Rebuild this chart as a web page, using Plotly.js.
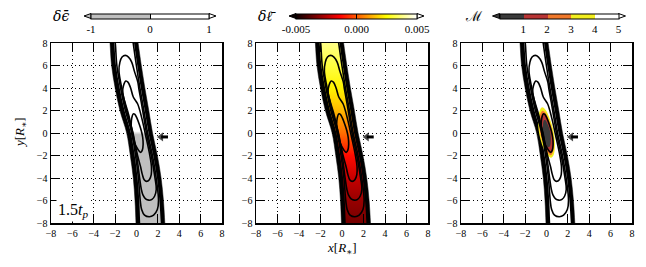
<!DOCTYPE html>
<html><head><meta charset="utf-8">
<script src="https://cdn.plot.ly/plotly-3.0.1.min.js"></script>
<style>html,body{margin:0;padding:0;background:#fff}</style>
</head><body><div id="chart" style="width:646px;height:267px"></div>
<script>
// ---------------- data ----------------
// stream edges (x positions in R*) sampled at these heights (first/last lie just outside the view)
const edgeY   = [9.2, 8, 6, 4, 2, 0, -2, -4, -6, -8, -9.2];
const outerL  = [-2.58, -2.48, -2.33, -2.0, -1.55, -0.92, -0.58, -0.3, -0.14, -0.05, 0.0];
const outerR  = [-0.02, 0.15, 0.45, 0.78, 1.15, 1.5, 1.95, 2.3, 2.52, 2.65, 2.72];
const innerL  = [-2.17, -2.07, -1.92, -1.57, -1.12, -0.52, -0.17, 0.1, 0.26, 0.35, 0.41];
const innerR  = [-0.38, -0.23, 0.07, 0.4, 0.77, 1.12, 1.57, 1.92, 2.14, 2.27, 2.35];

// density contour loops
const loopAx = [-0.3,-0.45,-0.5,-0.45,-0.3,-0.05,0.2,0.4,0.55,0.62,0.58,0.45,0.25,0.05,-0.15,-0.3];
const loopAy = [1.7,1.3,0.7,0.0,-0.6,-1.15,-1.55,-1.72,-1.5,-1.0,-0.4,0.2,0.8,1.3,1.65,1.7];
const loopBx = [-1.3,-1.22,-1.0,-0.78,-0.55,-0.3,0.1,0.5,0.85,1.25,1.4,1.38,1.2,0.95,0.72,0.55,0.38,0.1,-0.25,-0.7,-1.1,-1.3];
const loopBy = [3.6,4.2,4.62,4.5,4.0,3.2,2.6,1.3,-0.2,-2.0,-3.0,-3.7,-4.15,-4.3,-4.15,-3.7,-3.0,-2.0,-0.5,1.5,2.8,3.6];
const loopCx = [-1.64,-1.55,-1.35,-1.05,-0.75,-0.45,-0.2,0.13,0.21,0.58,0.93,1.38,1.73,1.85,1.7,1.45,1.15,0.85,0.6,0.45,0.29,0.02,-0.33,-0.93,-1.38,-1.64];
const loopCy = [5.5,6.3,6.75,6.9,6.75,6.3,5.5,4.5,4.0,2.0,0.0,-2.0,-4.0,-5.0,-5.6,-5.9,-5.97,-5.85,-5.5,-5.0,-4.0,-2.0,0.0,2.0,4.0,5.5];
const loopDx = [-2.1,-1.99,-1.84,-1.49,-1.04,-0.44,-0.09,0.18,0.35,0.48,0.75,1.2,1.6,1.95,2.06,1.84,1.49,1.04,0.69,0.32,-0.01,-0.31,-0.4];
const loopDy = [8.6,8,6,4,2,0,-2,-4,-6,-6.8,-7.3,-7.45,-7.3,-6.8,-6,-4,-2,0,2,4,6,8,8.6];

// panel 1: sign of delta-epsilon along the stream
const epsY   = [-8, -0.15, 0.15, 8];
const epsVal = [-0.6, -0.5, 0.5, 0.6];
// panel 2: delta-l along the stream
const lY   = [-8, -6, -4, -2, 0, 2, 4, 6, 8];
const lVal = [-0.0034, -0.0029, -0.0022, -0.0012, 0.0003, 0.0014, 0.0023, 0.0031, 0.0038];
// panel 3: Mach-number regions (nested), value of each region
const machVal = [3.5, 2.5, 1.5, 0.5];
const machX = [
  [-0.42,-0.65,-0.78,-0.74,-0.55,-0.25,0.1,0.42,0.68,0.79,0.74,0.55,0.25,-0.08,-0.42],
  [-0.38,-0.58,-0.68,-0.64,-0.46,-0.18,0.12,0.4,0.6,0.68,0.63,0.45,0.18,-0.1,-0.38],
  [-0.32,-0.5,-0.56,-0.5,-0.34,-0.08,0.18,0.42,0.58,0.62,0.56,0.4,0.15,-0.08,-0.32],
  [-0.22,-0.33,-0.34,-0.25,-0.08,0.12,0.3,0.4,0.38,0.25,0.05,-0.12,-0.22]
];
const machY = [
  [2.28,1.95,1.2,0.3,-0.6,-1.4,-1.95,-2.2,-1.9,-1.1,-0.3,0.6,1.4,2.05,2.28],
  [1.98,1.7,1.05,0.25,-0.55,-1.25,-1.75,-1.98,-1.7,-1.0,-0.25,0.55,1.25,1.8,1.98],
  [1.75,1.4,0.8,0.05,-0.6,-1.2,-1.6,-1.78,-1.5,-0.85,-0.15,0.5,1.1,1.55,1.75],
  [1.15,0.8,0.2,-0.4,-0.9,-1.25,-1.2,-0.7,-0.1,0.45,0.9,1.15,1.15]
];
// arrow marking direction (head first)
const arrowX = [2.3, 2.95];
const arrowY = [-0.35, -0.35];

// tick labels
const axisTicks = [-8, -6, -4, -2, 0, 2, 4, 6, 8];
const epsTicks = [-1, 0, 1],           epsTickText = ['-1', '0', '1'];
const lTicks = [-0.005, 0, 0.005],     lTickText = ['-0.005', '0.000', '0.005'];
const machTicks = [1, 2, 3, 4, 5],     machTickText = ['1', '2', '3', '4', '5'];

// ---------------- colour maps ----------------
const GRAY = '#bfbfbf';
const epsScale = [[0, GRAY], [0.5, GRAY], [0.5, '#ffffff'], [1, '#ffffff']];
const hotStops = [[0, [10, 0, 0]], [0.365, [255, 0, 0]], [0.746, [255, 255, 0]], [1, [255, 255, 255]]];
const hotScale = hotStops.map(s => [s[0], 'rgb(' + s[1].join(',') + ')']);
const machCols = ['#3a3a3a', '#b83434', '#f0782a', '#f2ee1e', '#ffffff'];
const machScale = [];
machCols.forEach((c, i) => { machScale.push([i / 5, c]); machScale.push([(i + 1) / 5, c]); });

function hotColor(v, vmin, vmax) {
  let t = Math.max(0, Math.min(1, (v - vmin) / (vmax - vmin)));
  for (let i = 1; i < hotStops.length; i++) {
    if (t <= hotStops[i][0]) {
      const a = hotStops[i - 1], b = hotStops[i];
      const f = (t - a[0]) / (b[0] - a[0]);
      const c = a[1].map((q, k) => Math.round(q + f * (b[1][k] - q)));
      return 'rgb(' + c.join(',') + ')';
    }
  }
  return 'rgb(255,255,255)';
}
const epsColor = v => (v < 0 ? GRAY : '#ffffff');
const machColor = v => machCols[Math.min(4, Math.floor(v))];

// ---------------- build traces ----------------
const FONT = 'Liberation Serif, DejaVu Serif, serif';
const MATHFONT = 'DejaVu Serif, serif';
const outerPolyX = outerL.concat(outerR.slice().reverse());
const outerPolyY = edgeY.concat(edgeY.slice().reverse());
const innerPolyX = innerL.concat(innerR.slice().reverse());
const innerPolyY = edgeY.concat(edgeY.slice().reverse());

function gradient(ys, vals, colorFn) {
  return {type: 'vertical', start: -8, stop: 8,
          colorscale: ys.map((y, i) => [(y + 8) / 16, colorFn(vals[i])])};
}

const traces = [];
const W = 646, H = 267;
const cbCenters = [150, 356.5, 559], cbLens = [118, 121, 119], cbTop = 13.5, cbThick = 5;

for (let p = 1; p <= 3; p++) {
  const xa = p === 1 ? 'x' : 'x' + p, ya = p === 1 ? 'y' : 'y' + p;
  const base = {type: 'scatter', mode: 'lines', xaxis: xa, yaxis: ya, hoverinfo: 'skip', showlegend: false};
  traces.push(Object.assign({}, base, {x: outerPolyX, y: outerPolyY, fill: 'toself', fillcolor: '#000',
                line: {color: '#000', width: 0.5, shape: 'spline'}}));
  const inner = Object.assign({}, base, {x: innerPolyX, y: innerPolyY, fill: 'toself', fillcolor: '#fff',
                line: {color: 'rgba(0,0,0,0)', width: 0, shape: 'spline'}});
  if (p === 1) inner.fillgradient = gradient(epsY, epsVal, epsColor);
  if (p === 2) inner.fillgradient = gradient(lY, lVal, v => hotColor(v, -0.005, 0.005));
  traces.push(inner);
  if (p === 3) {
    machX.forEach((mx, i) => traces.push(Object.assign({}, base, {x: mx, y: machY[i], fill: 'toself',
      fillcolor: machColor(machVal[i]), line: {color: 'rgba(0,0,0,0)', width: 0, shape: 'spline'}})));
  }
  [[loopDx, loopDy], [loopCx, loopCy], [loopBx, loopBy], [loopAx, loopAy]].forEach(l =>
    traces.push(Object.assign({}, base, {x: l[0], y: l[1], line: {color: '#000', width: 1.6, shape: 'spline'}})));

  // direction arrow
  traces.push(Object.assign({}, base, {x: arrowX, y: arrowY, mode: 'lines+markers', line: {color: '#000', width: 3},
    marker: {symbol: ['triangle-left', 'circle'], size: [8, 0], color: '#000', line: {width: 0}}}));

  // colour bar carrier
  const cfg = [
    {scale: epsScale, cmin: -1, cmax: 1, tv: epsTicks, tt: epsTickText},
    {scale: hotScale, cmin: -0.005, cmax: 0.005, tv: lTicks, tt: lTickText},
    {scale: machScale, cmin: 0, cmax: 5, tv: machTicks, tt: machTickText}][p - 1];
  traces.push({type: 'scatter', mode: 'markers', x: [0], y: [0], xaxis: xa, yaxis: ya, hoverinfo: 'skip', showlegend: false,
    marker: {opacity: 0, size: 1, color: [cfg.cmin], colorscale: cfg.scale, cmin: cfg.cmin, cmax: cfg.cmax, showscale: true,
      colorbar: {orientation: 'h', x: cbCenters[p - 1] / W, xanchor: 'center', y: 1 - cbTop / H, yanchor: 'top',
        len: cbLens[p - 1], lenmode: 'pixels', thickness: cbThick, thicknessmode: 'pixels', xpad: 0, ypad: 0,
        outlinewidth: 1, outlinecolor: '#000', tickvals: cfg.tv, ticktext: cfg.tt,
        ticks: (p < 3 ? 'inside' : ''), ticklen: cbThick, tickcolor: '#000', ticklabelposition: 'outside bottom',
        tickfont: {family: FONT, size: 11, color: '#000'}}}});
}

// ---------------- layout ----------------
const xDomains = [[51 / W, 222 / W], [256 / W, 428 / W], [461 / W, 632 / W]];
const yDomain = [1 - 223 / H, 1 - 43 / H];
function axis(dom, anchor) {
  return {domain: dom, anchor: anchor, range: [-8, 8], tickvals: axisTicks, ticks: 'inside', ticklen: 9, tickwidth: 1,
    tickcolor: '#000', showline: true, linewidth: 1.5, linecolor: '#000', mirror: 'allticks',
    showgrid: true, gridcolor: '#000', gridwidth: 1, griddash: '1px,3px', zeroline: false, fixedrange: true,
    tickfont: {family: FONT, size: 10, color: '#000'}};
}
const layout = {width: W, height: H, margin: {l: 0, r: 0, t: 0, b: 0}, paper_bgcolor: '#fff', plot_bgcolor: '#fff',
  showlegend: false,
  xaxis: axis(xDomains[0], 'y'), yaxis: axis(yDomain, 'x'),
  xaxis2: axis(xDomains[1], 'y2'), yaxis2: axis(yDomain, 'x2'),
  xaxis3: axis(xDomains[2], 'y3'), yaxis3: axis(yDomain, 'x3'),
  annotations: [], shapes: []};

const titles = ['<i>δϵ̄</i>', '<i>δℓ̄</i>', 'ℳ'];
const titleX = [61, 267, 474];
const cbMid = cbTop + cbThick / 2;
const arrowFill = [[GRAY, '#ffffff'], ['#0a0000', '#ffffff'], [machCols[0], '#ffffff']];
for (let p = 0; p < 3; p++) {
  layout.annotations.push({xref: 'paper', yref: 'paper', x: titleX[p] / W, y: 1 - cbMid / H, xanchor: 'center', yanchor: 'middle',
    text: titles[p], showarrow: false, font: {family: MATHFONT, size: 14, color: '#000'}});
  const x0 = cbCenters[p] - cbLens[p] / 2, x1 = cbCenters[p] + cbLens[p] / 2;
  const P = (px, py) => (px / W) + ',' + (1 - py / H);
  layout.shapes.push({type: 'path', xref: 'paper', yref: 'paper',
    path: 'M' + P(x0 - 7, cbMid) + 'L' + P(x0, cbTop) + 'L' + P(x0, cbTop + cbThick) + 'Z',
    fillcolor: arrowFill[p][0], line: {color: '#000', width: 1}});
  layout.shapes.push({type: 'path', xref: 'paper', yref: 'paper',
    path: 'M' + P(x1 + 7, cbMid) + 'L' + P(x1, cbTop) + 'L' + P(x1, cbTop + cbThick) + 'Z',
    fillcolor: arrowFill[p][1], line: {color: '#000', width: 1}});
}
layout.annotations.push({xref: 'x', yref: 'y', x: -7.5, y: -7.95, xanchor: 'left', yanchor: 'bottom',
  text: '1.5<i>t</i><sub><i>p</i></sub>', showarrow: false, bgcolor: '#fff', borderpad: 1,
  font: {family: FONT, size: 16, color: '#000'}});
layout.annotations.push({xref: 'paper', yref: 'paper', x: 20 / W, y: 1 - 133 / H, textangle: -90, xanchor: 'center', yanchor: 'middle',
  text: '<i>y</i>[<i>R</i><sub>∗</sub>]', showarrow: false, font: {family: FONT, size: 13, color: '#000'}});
layout.annotations.push({xref: 'paper', yref: 'paper', x: 342 / W, y: 1 - 248 / H, xanchor: 'center', yanchor: 'middle',
  text: '<i>x</i>[<i>R</i><sub>∗</sub>]', showarrow: false, font: {family: FONT, size: 13, color: '#000'}});

Plotly.newPlot('chart', traces, layout, {staticPlot: true, displayModeBar: false});
</script></body></html>
